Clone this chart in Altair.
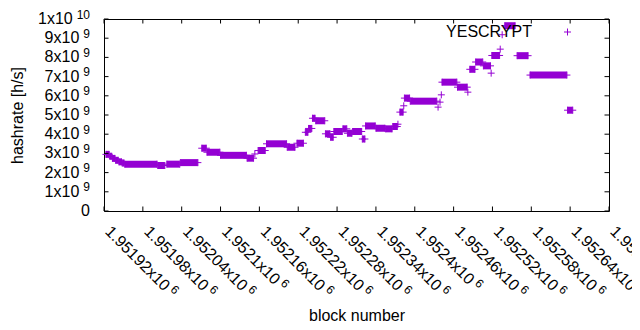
import altair as alt
import pandas as pd

# hashrate runs: first block, last block, value (x10^9 h/s)
seg_start = [1951923, 1951929, 1951933, 1951938, 1951943, 1951948, 1951952, 1952003,
             1952017, 1952038, 1952071, 1952079, 1952100, 1952141, 1952153, 1952158,
             1952171, 1952203, 1952218, 1952231, 1952236, 1952242, 1952247, 1952262,
             1952270, 1952275, 1952289, 1952296, 1952304, 1952319, 1952324, 1952340,
             1952355, 1952366, 1952374, 1952377, 1952383, 1952384, 1952393, 1952436,
             1952439, 1952441, 1952442, 1952466, 1952482, 1952485, 1952494, 1952506,
             1952518, 1952519, 1952532, 1952535, 1952539, 1952558, 1952578, 1952636]
seg_end = [1951928, 1951932, 1951937, 1951942, 1951947, 1951951, 1952002, 1952014,
           1952037, 1952065, 1952078, 1952099, 1952140, 1952151, 1952153, 1952169,
           1952202, 1952215, 1952228, 1952235, 1952241, 1952246, 1952261, 1952269,
           1952274, 1952288, 1952295, 1952303, 1952318, 1952323, 1952339, 1952354,
           1952365, 1952373, 1952374, 1952382, 1952383, 1952392, 1952434, 1952436,
           1952439, 1952441, 1952465, 1952481, 1952482, 1952493, 1952505, 1952517,
           1952518, 1952531, 1952532, 1952535, 1952555, 1952575, 1952635, 1952644]
seg_value = [2.95, 2.85, 2.74, 2.64, 2.56, 2.50, 2.44, 2.37,
             2.44, 2.52, 3.27, 3.06, 2.90, 2.75, 2.97, 3.15,
             3.50, 3.32, 3.53, 4.10, 4.30, 4.83, 4.70, 4.02,
             3.84, 4.14, 4.28, 4.05, 4.14, 3.75, 4.43, 4.31,
             4.28, 4.40, 4.52, 5.15, 5.48, 5.88, 5.72, 5.41,
             5.67, 6.05, 6.71, 6.45, 6.19, 7.38, 7.76, 7.56,
             7.18, 8.10, 8.43, 9.18, 9.65, 8.09, 7.08, 5.25]

# tick values and their labels (mantissa part and exponent part, as gnuplot shows them)
x_ticks = [1951920, 1951980, 1952040, 1952100, 1952160, 1952220, 1952280,
           1952340, 1952400, 1952460, 1952520, 1952580, 1952640, 1952700]
x_tick_main = ["1.95192x10", "1.95198x10", "1.95204x10", "1.9521x10", "1.95216x10",
               "1.95222x10", "1.95228x10", "1.95234x10", "1.9524x10", "1.95246x10",
               "1.95252x10", "1.95258x10", "1.95264x10", "1.9527x10"]
x_tick_exp = ["6"] * 14
y_ticks = [0, 1e9, 2e9, 3e9, 4e9, 5e9, 6e9, 7e9, 8e9, 9e9, 1e10]
y_tick_main = ["0", "1x10", "2x10", "3x10", "4x10", "5x10", "6x10", "7x10", "8x10",
               "9x10", "1x10"]
y_tick_exp = ["", "9", "9", "9", "9", "9", "9", "9", "9", "9", "10"]

SERIES = "YESCRYPT"
PURPLE = "#9400d3"
FONT = "Liberation Sans"
FS = 16
EXP_FS = 12
PLUS = "M-1,0L1,0M0,-1L0,1"
W, H = 505, 192

segs = pd.DataFrame({
    "start": seg_start,
    "end": seg_end,
    "hashrate": [v * 1e9 for v in seg_value],
})
pts = pd.concat([
    pd.DataFrame({"block": seg_start, "hashrate": segs["hashrate"]}),
    pd.DataFrame({"block": seg_end, "hashrate": segs["hashrate"]}),
], ignore_index=True).drop_duplicates()
pts["series"] = SERIES

xdf = pd.DataFrame({"v": x_ticks, "main": x_tick_main, "exp": x_tick_exp})
xdf["len"] = xdf["main"].str.len()
ydf = pd.DataFrame({"v": y_ticks, "main": y_tick_main, "exp": y_tick_exp})

xscale = alt.Scale(domain=[1951920, 1952700], nice=False, zero=False)
yscale = alt.Scale(domain=[0, 1e10], nice=False, zero=False)

x_axis = alt.Axis(
    values=x_ticks, labels=False, ticks=False, domain=False, grid=False,
    title="block number", titleFont=FONT, titleFontSize=FS,
    titleFontWeight="normal", titleColor="#000000",
    titleX=252.5, titleY=109.5, titleBaseline="alphabetic", titleAlign="center",
)
y_axis = alt.Axis(
    values=y_ticks, labels=False, ticks=False, domain=False, grid=False,
    title="hashrate [h/s]", titleFont=FONT, titleFontSize=FS,
    titleFontWeight="normal", titleColor="#000000",
    titleX=-82, titleY=96, titleAngle=270, titleBaseline="alphabetic", titleAlign="center",
)

X = lambda f: alt.X(f, scale=xscale, axis=x_axis)
Y = lambda f: alt.Y(f, scale=yscale, axis=y_axis)

runs = alt.Chart(segs).mark_rule(color=PURPLE, strokeWidth=7, strokeCap="butt").encode(
    x=X("start:Q"),
    x2="end:Q",
    y=Y("hashrate:Q"),
)

points = alt.Chart(pts).mark_point(
    shape=PLUS, filled=False, size=49, strokeWidth=1, opacity=1
).encode(
    x=X("block:Q"),
    y=Y("hashrate:Q"),
    color=alt.Color(
        "series:N",
        scale=alt.Scale(domain=[SERIES], range=[PURPLE]),
        legend=alt.Legend(
            title=None, orient="none", legendX=455.5, legendY=5, padding=0,
            labelAlign="right", labelOffset={"expr": "-43.5"}, labelFont=FONT,
            labelFontSize=FS, labelColor="#000000", symbolType=PLUS, symbolSize=49,
            symbolStrokeWidth=1, symbolStrokeColor=PURPLE,
        ),
    ),
)

# inward ticks on all four sides (gnuplot style)
tick_style = dict(color="#000000", strokeWidth=1)
y_left = alt.Chart(ydf).mark_rule(**tick_style).encode(
    y=Y("v:Q"), x=alt.value(0), x2=alt.value(4.5))
y_right = alt.Chart(ydf).mark_rule(**tick_style).encode(
    y=Y("v:Q"), x=alt.value(W - 4.5), x2=alt.value(W))
x_bottom = alt.Chart(xdf).mark_rule(**tick_style).encode(
    x=X("v:Q"), y=alt.value(H), y2=alt.value(H - 4.5))
x_top = alt.Chart(xdf).mark_rule(**tick_style).encode(
    x=X("v:Q"), y=alt.value(0), y2=alt.value(4.5))

# y tick labels: mantissa + raised exponent, right-justified as a whole
txt = dict(font=FONT, color="#000000")
y_zero = alt.Chart(ydf).transform_filter("datum.v == 0").mark_text(
    align="right", baseline="middle", fontSize=FS, **txt).encode(
    y=Y("v:Q"), x=alt.value(-14), text="main:N")
y_main9 = alt.Chart(ydf).transform_filter("datum.v > 0 && datum.v < 1e10").mark_text(
    align="right", baseline="middle", fontSize=FS, **txt).encode(
    y=Y("v:Q"), x=alt.value(-24.7), text="main:N")
y_main10 = alt.Chart(ydf).transform_filter("datum.v >= 1e10").mark_text(
    align="right", baseline="middle", fontSize=FS, **txt).encode(
    y=Y("v:Q"), x=alt.value(-31.3), text="main:N")
y_exp = alt.Chart(ydf).transform_filter("datum.v > 0").mark_text(
    align="right", baseline="alphabetic", fontSize=EXP_FS, dy=-0.5, **txt).encode(
    y=Y("v:Q"), x=alt.value(-14), text="exp:N")

# x tick labels: rotated 45 degrees, mantissa followed by raised exponent
LAB_Y = H + 17
DX0, DY0 = 3.5, -2.0
x_main = alt.Chart(xdf).mark_text(
    align="left", baseline="middle", angle=45, fontSize=FS, dx=DX0, dy=DY0, **txt).encode(
    x=X("v:Q"), y=alt.value(LAB_Y), text="main:N")
x_exp_long = alt.Chart(xdf).transform_filter("datum.len == 10").mark_text(
    align="left", baseline="alphabetic", angle=45, fontSize=EXP_FS,
    dx=DX0 + 83.6 + 3.5, dy=DY0 - 0.5, **txt).encode(
    x=X("v:Q"), y=alt.value(LAB_Y), text="exp:N")
x_exp_short = alt.Chart(xdf).transform_filter("datum.len == 9").mark_text(
    align="left", baseline="alphabetic", angle=45, fontSize=EXP_FS,
    dx=DX0 + 74.7 + 3.5, dy=DY0 - 0.5, **txt).encode(
    x=X("v:Q"), y=alt.value(LAB_Y), text="exp:N")

chart = alt.layer(
    runs, points, y_left, y_right, x_bottom, x_top,
    y_zero, y_main9, y_main10, y_exp, x_main, x_exp_long, x_exp_short,
).properties(
    width=W, height=H,
    padding={"left": 96, "top": 11, "right": 23, "bottom": 111},
    autosize=alt.AutoSizeParams(type="none"),
    background="white",
).configure_view(stroke="#000000", strokeWidth=1)

chart.save("out.html", embed_options={"renderer": "svg", "actions": False})
